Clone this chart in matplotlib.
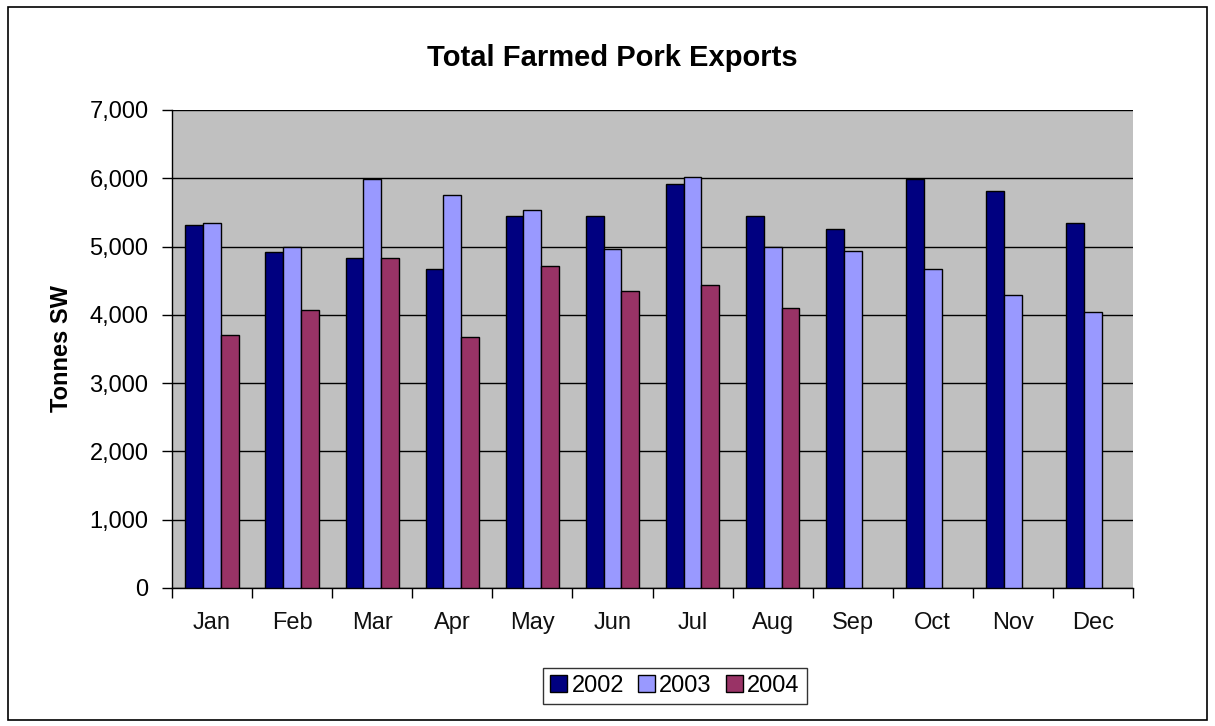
import matplotlib
matplotlib.use("Agg")
import matplotlib.pyplot as plt
import numpy as np
from matplotlib.patches import Rectangle
from matplotlib.ticker import FuncFormatter, FixedLocator

plt.rcParams['font.family'] = ['Liberation Sans', 'DejaVu Sans']

months = ["Jan", "Feb", "Mar", "Apr", "May", "Jun", "Jul", "Aug", "Sep", "Oct", "Nov", "Dec"]
exports_2002 = [5310, 4915, 4830, 4665, 5450, 5450, 5910, 5450, 5255, 5985, 5820, 5345]
exports_2003 = [5345, 4990, 5985, 5760, 5535, 4970, 6020, 4990, 4940, 4665, 4290, 4035]
exports_2004 = [3705, 4065, 4830, 3670, 4715, 4350, 4435, 4095, None, None, None, None]
series_labels = ["2002", "2003", "2004"]
colors = ["#000080", "#9999FF", "#993366"]

W, H = 1215, 726
fig = plt.figure(figsize=(W/100, H/100), dpi=100)
fig.patch.set_facecolor("white")
# outer border
fig.add_artist(Rectangle((8/W, 1 - 720/H), (1207-8)/W, (720-7)/H, transform=fig.transFigure,
                         fill=False, edgecolor="black", linewidth=1.2))

ax = fig.add_axes([172/W, 1 - 588/H, (1133-172)/W, (588-110)/H])
ax.set_facecolor("#C0C0C0")

x = np.arange(len(months))
bw = 1/4.5
for i, (vals, lab, c) in enumerate(zip([exports_2002, exports_2003, exports_2004], series_labels, colors)):
    xs = [xi for xi, v in zip(x, vals) if v is not None]
    vs = [v for v in vals if v is not None]
    ax.bar(np.array(xs) + (i - 1) * bw, vs, width=bw, color=c, edgecolor="black", linewidth=1.0,
           label=lab, zorder=3)

ax.set_xlim(-0.5, 11.5)
ax.set_ylim(0, 7000)
ax.set_yticks(np.arange(0, 7001, 1000))
ax.yaxis.set_major_formatter(FuncFormatter(lambda v, p: f"{int(v):,}"))
ax.yaxis.grid(True, color="black", linewidth=1.0, zorder=1)
ax.set_axisbelow(True)

ax.set_xticks(x)
ax.set_xticklabels(months)
ax.tick_params(axis="x", length=0, pad=17, labelsize=17, colors="#111111")
ax.xaxis.set_minor_locator(FixedLocator(np.arange(-0.5, 12, 1)))
ax.tick_params(axis="x", which="minor", length=7, width=1, direction="out", colors="black")
ax.tick_params(axis="y", length=7, width=1, direction="out", labelsize=17, pad=10)

for s in ["top", "right"]:
    ax.spines[s].set_visible(False)
ax.spines["left"].set_linewidth(1.0)
ax.spines["bottom"].set_linewidth(1.0)

ax.set_ylabel("Tonnes SW", fontsize=17, fontweight="bold", labelpad=12)
fig.text(612/W, 1 - 58/H, "Total Farmed Pork Exports", ha="center", va="center",
         fontsize=21, fontweight="bold")

leg = fig.legend(loc="center", bbox_to_anchor=(675/W, 1 - 686/H), ncol=3, frameon=True,
                 fontsize=17, handlelength=0.7, handleheight=0.7, handletextpad=0.2,
                 columnspacing=0.6, borderpad=0.3, fancybox=False, edgecolor="black")
leg.get_frame().set_linewidth(1.0)

fig.savefig("out.png", dpi=100, facecolor="white")
